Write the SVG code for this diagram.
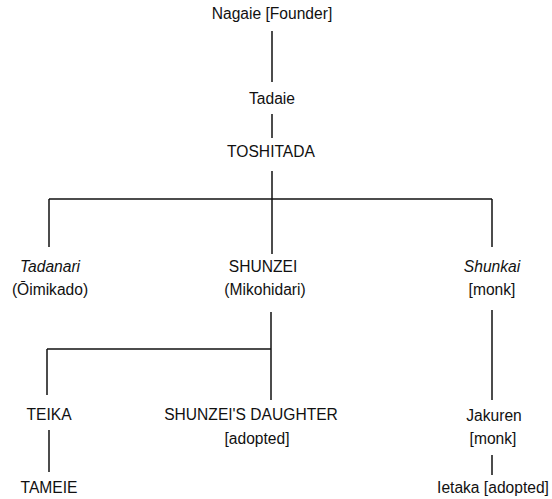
<svg xmlns="http://www.w3.org/2000/svg" width="552" height="499" viewBox="0 0 552 499">
<style>
text{font-family:"Liberation Sans",Arial,sans-serif;font-size:15.6px;fill:#111;text-anchor:middle}
.i{font-style:italic}
.c line{stroke:#111;stroke-width:1.5}
</style>
<rect width="552" height="499" fill="#fff"/>
<g class="c" id="connectors">
<line x1="272" y1="31" x2="272" y2="82"/>
<line x1="272" y1="114" x2="272" y2="138"/>
<line x1="272" y1="171" x2="272" y2="254"/>
<line x1="49" y1="199" x2="492" y2="199"/>
<line x1="49" y1="199" x2="49" y2="247"/>
<line x1="492" y1="199" x2="492" y2="247"/>
<line x1="271" y1="312" x2="271" y2="400"/>
<line x1="47" y1="349" x2="271" y2="349"/>
<line x1="47" y1="349" x2="47" y2="395"/>
<line x1="49" y1="430" x2="49" y2="472"/>
<line x1="492" y1="310" x2="492" y2="400"/>
<line x1="492" y1="455" x2="492" y2="475"/>
</g>
<g id="nagaie"><text x="272" y="19">Nagaie [Founder]</text></g>
<g id="tadaie"><text x="272" y="104">Tadaie</text></g>
<g id="toshitada"><text x="271" y="157">TOSHITADA</text></g>
<g id="tadanari"><text class="i" x="50" y="272">Tadanari</text><text x="50" y="295">(Ōimikado)</text></g>
<g id="shunzei"><text x="263" y="272">SHUNZEI</text><text x="265" y="295">(Mikohidari)</text></g>
<g id="shunkai"><text class="i" x="492" y="272">Shunkai</text><text x="492" y="295">[monk]</text></g>
<g id="teika"><text x="49" y="420">TEIKA</text></g>
<g id="tameie"><text x="49" y="493">TAMEIE</text></g>
<g id="daughter"><text x="251" y="420">SHUNZEI'S DAUGHTER</text><text x="257" y="444">[adopted]</text></g>
<g id="jakuren"><text x="494" y="421">Jakuren</text><text x="493" y="444">[monk]</text></g>
<g id="ietaka"><text x="493" y="493">Ietaka [adopted]</text></g>
</svg>
